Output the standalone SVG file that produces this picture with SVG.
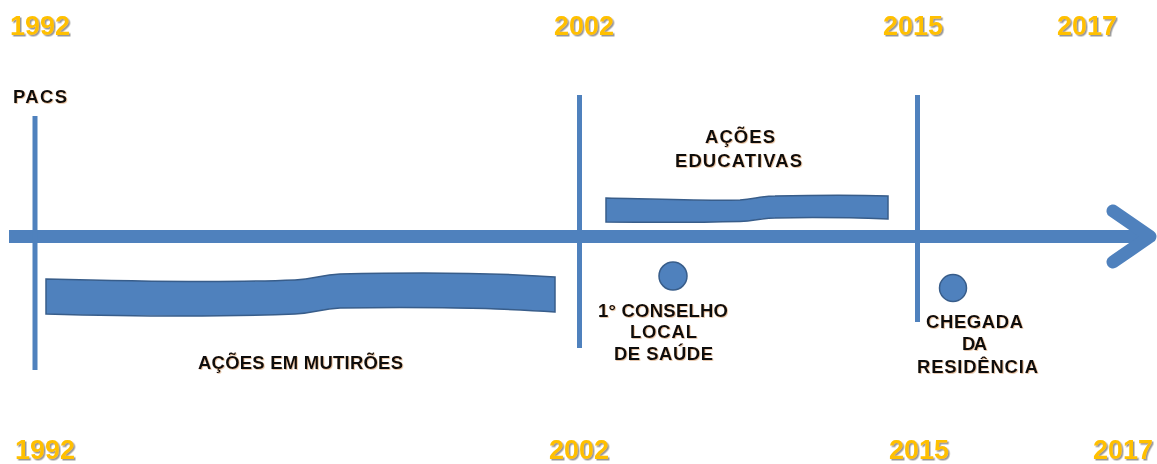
<svg xmlns="http://www.w3.org/2000/svg" width="1157" height="464" viewBox="0 0 1157 464">
  <defs>
    <filter id="yearShadow" x="-10%" y="-20%" width="130%" height="160%">
      <feDropShadow dx="1.5" dy="1.5" stdDeviation="0.7" flood-color="#7f7f7f" flood-opacity="0.8"/>
    </filter>
    <filter id="labelShadow" x="-5%" y="-20%" width="115%" height="150%">
      <feDropShadow dx="0.8" dy="0.8" stdDeviation="0.5" flood-color="#c07020" flood-opacity="0.45"/>
    </filter>
  </defs>
  <style>
    .year { font-family: "Liberation Sans", Arial, sans-serif; font-weight: bold; font-size: 27px; fill: #FFC000; filter: url(#yearShadow); }
    .label { font-family: "Liberation Sans", Arial, sans-serif; font-weight: bold; font-size: 18.5px; fill: #111111; filter: url(#labelShadow); }
    .axis { stroke: #4F81BD; fill: none; }
    .tick { stroke: #4F81BD; stroke-width: 5; fill: none; }
    .band { fill: #4F81BD; stroke: #385D8A; stroke-width: 1.5; }
    .dot { fill: #4F81BD; stroke: #385D8A; stroke-width: 1.5; }
  </style>

  <rect width="1157" height="464" fill="#ffffff"/>

  <!-- year scale, top and bottom -->
  <g id="years-top">
    <text class="year" x="10" y="35">1992</text>
    <text class="year" x="554" y="35">2002</text>
    <text class="year" x="883" y="35">2015</text>
    <text class="year" x="1057" y="35">2017</text>
  </g>
  <g id="years-bottom">
    <text class="year" x="15" y="459">1992</text>
    <text class="year" x="549" y="459">2002</text>
    <text class="year" x="889" y="459">2015</text>
    <text class="year" x="1093" y="459">2017</text>
  </g>

  <!-- timeline axis and period markers -->
  <g id="connectors">
    <line class="axis" x1="9" y1="236.5" x2="1148" y2="236.5" stroke-width="13"/>
    <polyline class="axis" points="1113,211 1150,236.5 1113,262" stroke-width="13" stroke-linecap="round" stroke-linejoin="round"/>
    <line class="tick" x1="35" y1="116" x2="35" y2="370"/>
    <line class="tick" x1="579.5" y1="95" x2="579.5" y2="348"/>
    <line class="tick" x1="917.5" y1="95" x2="917.5" y2="322"/>
  </g>

  <g id="pacs">
    <text class="label" x="13" y="103" textLength="54" lengthAdjust="spacing">PACS</text>
  </g>

  <g id="acoes-mutiroes">
    <path class="band" d="M46,279 C120,281 220,283 295,280 C315,279 320,275 340,274 C420,272 500,273 555,277 L555,312 C500,308 420,307 340,308 C320,309 315,313 295,314 C220,317 120,316 46,314 Z"/>
    <text class="label" x="198" y="369" textLength="205" lengthAdjust="spacing">AÇÕES EM MUTIRÕES</text>
  </g>

  <g id="acoes-educativas">
    <path class="band" d="M606,198 C650,199 700,201 740,200 C755,199 760,196 775,196 C820,195 860,195 888,196 L888,219 C860,218 820,217 775,218 C760,218 755,221 740,221.5 C700,222.5 650,222.5 606,222 Z"/>
    <text class="label" x="705" y="143" textLength="70" lengthAdjust="spacing">AÇÕES</text>
    <text class="label" x="675" y="167" textLength="127" lengthAdjust="spacing">EDUCATIVAS</text>
  </g>

  <g id="conselho-local">
    <circle class="dot" cx="673" cy="276" r="14"/>
    <text class="label" x="598" y="317" textLength="130" lengthAdjust="spacing">1° CONSELHO</text>
    <text class="label" x="630" y="338" textLength="67" lengthAdjust="spacing">LOCAL</text>
    <text class="label" x="614" y="360" textLength="99" lengthAdjust="spacing">DE SAÚDE</text>
  </g>

  <g id="chegada-residencia">
    <circle class="dot" cx="953" cy="288" r="13.5"/>
    <text class="label" x="926" y="328" textLength="97" lengthAdjust="spacing">CHEGADA</text>
    <text class="label" x="962" y="350" textLength="25" lengthAdjust="spacing">DA</text>
    <text class="label" x="917" y="373" textLength="121" lengthAdjust="spacing">RESIDÊNCIA</text>
  </g>
</svg>
